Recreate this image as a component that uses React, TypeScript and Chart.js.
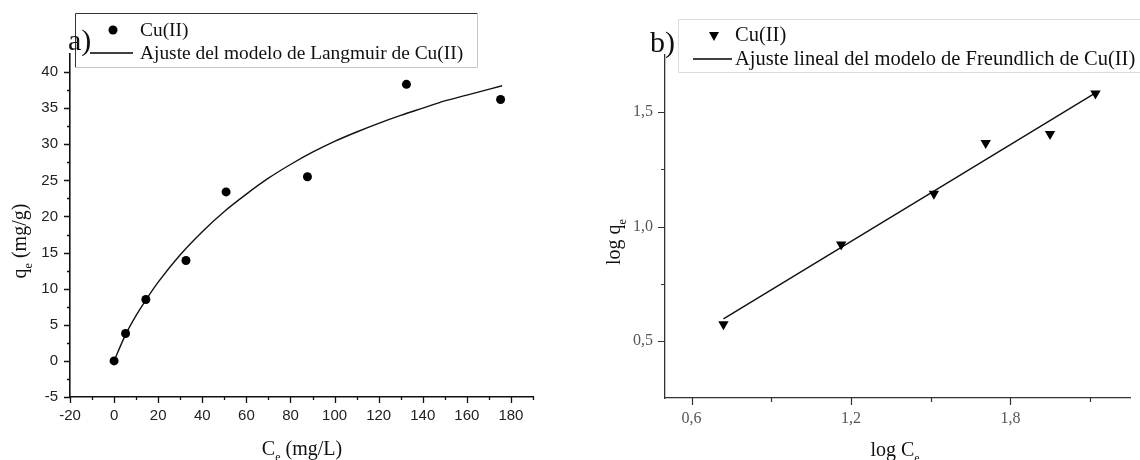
import React, { useEffect, useRef } from "react";
import { Chart, registerables } from "chart.js";
Chart.register(...registerables);

const SERIF = "'Liberation Serif', 'Times New Roman', serif";
const SANS = "'Liberation Sans', Arial, sans-serif";

// ---------- a) Langmuir ----------
const langCe = [0, 5.2, 14.4, 32.6, 50.8, 87.7, 132.6, 175.3];
const langQe = [0, 3.8, 8.5, 13.9, 23.4, 25.5, 38.3, 36.2];
const langFitCe = [0, 5, 10, 15, 20, 30, 40, 50, 60, 70, 80, 90, 100, 110, 120, 130, 140, 150, 160, 176];
const langFitQe = [0, 3.5, 6.3, 8.7, 10.9, 14.7, 17.9, 20.7, 23.1, 25.3, 27.2, 28.9, 30.4, 31.7, 32.9, 34.0, 35.0, 36.0, 36.8, 38.1];
const leftXTicks = [-20, 0, 20, 40, 60, 80, 100, 120, 140, 160, 180];
const leftXMinor = [-10, 10, 30, 50, 70, 90, 110, 130, 150, 170, 190];
const leftYTicks = [-5, 0, 5, 10, 15, 20, 25, 30, 35, 40];
const leftYMinor = [-2.5, 2.5, 7.5, 12.5, 17.5, 22.5, 27.5, 32.5, 37.5];
const leftLabels = ["Cu(II)", "Ajuste del modelo de Langmuir de Cu(II)"];

// ---------- b) Freundlich ----------
const freLogCe = [0.72, 1.163, 1.512, 1.707, 1.949, 2.12];
const freLogQe = [0.573, 0.921, 1.143, 1.365, 1.404, 1.582];
const freFitX = [0.72, 2.125];
const freFitY = [0.596, 1.588];
const rightXTicks = [0.6, 1.2, 1.8];
const rightXMinor = [0.9, 1.5, 2.1];
const rightYTicks = [0.5, 1.0, 1.5];
const rightYMinor = [0.75, 1.25];
const rightLabels = ["Cu(II)", "Ajuste lineal del modelo de Freundlich de Cu(II)"];

type Part = [string, boolean];

function drawSubText(ctx: CanvasRenderingContext2D, parts: Part[], cx: number, cy: number, rotate: boolean, size: number) {
  ctx.save();
  ctx.translate(cx, cy);
  if (rotate) ctx.rotate(-Math.PI / 2);
  const mainFont = `${size}px ${SERIF}`;
  const subFont = `${Math.round(size * 0.62)}px ${SERIF}`;
  let total = 0;
  for (const [t, sub] of parts) {
    ctx.font = sub ? subFont : mainFont;
    total += ctx.measureText(t).width;
  }
  let x = -total / 2;
  ctx.textAlign = "left";
  ctx.textBaseline = "alphabetic";
  ctx.fillStyle = "#111";
  for (const [t, sub] of parts) {
    ctx.font = sub ? subFont : mainFont;
    ctx.fillText(t, x, sub ? size * 0.3 : 0);
    x += ctx.measureText(t).width;
  }
  ctx.restore();
}

function makeDecor(cfg: any) {
  return {
    id: "decor_" + cfg.name,
    afterDraw(chart: any) {
      const ctx = chart.ctx as CanvasRenderingContext2D;
      const xs = chart.scales.x;
      const ys = chart.scales.y;
      const { left, bottom } = chart.chartArea;
      ctx.save();
      ctx.strokeStyle = cfg.axisColor;
      ctx.lineWidth = cfg.tickWidth;
      ctx.beginPath();
      for (const v of cfg.xMajor) {
        const p = Math.round(xs.getPixelForValue(v)) + 0.5;
        ctx.moveTo(p, bottom);
        ctx.lineTo(p, bottom + cfg.major);
      }
      for (const v of cfg.xMinor) {
        const p = Math.round(xs.getPixelForValue(v)) + 0.5;
        ctx.moveTo(p, bottom);
        ctx.lineTo(p, bottom + cfg.minor);
      }
      for (const v of cfg.yMajor) {
        const p = Math.round(ys.getPixelForValue(v)) + 0.5;
        ctx.moveTo(left, p);
        ctx.lineTo(left - cfg.major, p);
      }
      for (const v of cfg.yMinor) {
        const p = Math.round(ys.getPixelForValue(v)) + 0.5;
        ctx.moveTo(left, p);
        ctx.lineTo(left - cfg.minor, p);
      }
      ctx.stroke();

      // axis titles
      drawSubText(ctx, cfg.xTitle, cfg.xTitlePos[0], cfg.xTitlePos[1], false, 20);
      drawSubText(ctx, cfg.yTitle, cfg.yTitlePos[0], cfg.yTitlePos[1], true, 20);

      // legend box
      const lb = cfg.legendBox;
      ctx.fillStyle = "#fff";
      ctx.fillRect(lb[0], lb[1], lb[2], lb[3]);
      ctx.lineWidth = 1;
      ctx.strokeStyle = cfg.legendDark;
      ctx.beginPath();
      ctx.moveTo(lb[0] + 0.5, lb[1] + lb[3] + 0.5);
      ctx.lineTo(lb[0] + 0.5, lb[1] + 0.5);
      ctx.lineTo(lb[0] + lb[2] + 0.5, lb[1] + 0.5);
      ctx.stroke();
      ctx.strokeStyle = cfg.legendLight;
      ctx.beginPath();
      ctx.moveTo(lb[0] + lb[2] + 0.5, lb[1] + 0.5);
      ctx.lineTo(lb[0] + lb[2] + 0.5, lb[1] + lb[3] + 0.5);
      ctx.lineTo(lb[0] + 0.5, lb[1] + lb[3] + 0.5);
      ctx.stroke();

      // panel letter
      ctx.fillStyle = "#111";
      ctx.textAlign = "left";
      ctx.textBaseline = "alphabetic";
      ctx.font = `30px ${SERIF}`;
      ctx.fillText(cfg.letter, cfg.letterPos[0], cfg.letterPos[1]);

      const ds = chart.data.datasets;
      // marker
      const m = cfg.markerPos;
      ctx.fillStyle = "#000";
      ctx.beginPath();
      if (cfg.marker === "circle") {
        ctx.arc(m[0], m[1], 4.5, 0, Math.PI * 2);
      } else {
        ctx.moveTo(m[0] - 5, m[1] - 4);
        ctx.lineTo(m[0] + 5, m[1] - 4);
        ctx.lineTo(m[0], m[1] + 5);
        ctx.closePath();
      }
      ctx.fill();
      // line sample
      const l = cfg.lineSample;
      ctx.strokeStyle = "#000";
      ctx.lineWidth = 1.3;
      ctx.beginPath();
      ctx.moveTo(l[0], l[2]);
      ctx.lineTo(l[1], l[2]);
      ctx.stroke();
      ctx.font = `${cfg.legendSize}px ${SERIF}`;
      ctx.fillStyle = "#111";
      ctx.textBaseline = "middle";
      ctx.fillText(ds[0].label, cfg.textX, cfg.textY[0]);
      ctx.fillText(ds[1].label, cfg.textX, cfg.textY[1]);
      ctx.restore();
    },
  };
}

function buildChart(canvas: HTMLCanvasElement, cfg: any) {
  const scatter = cfg.px.map((x: number, i: number) => ({ x, y: cfg.py[i] }));
  const fit = cfg.fx.map((x: number, i: number) => ({ x, y: cfg.fy[i] }));
  const tickFont = { family: cfg.tickFamily, size: cfg.tickSize };
  return new Chart(canvas, {
    type: "scatter",
    data: {
      datasets: [
        {
          label: cfg.labels[0],
          data: scatter,
          showLine: false,
          pointStyle: cfg.marker === "circle" ? "circle" : "triangle",
          rotation: cfg.marker === "circle" ? 0 : 180,
          pointRadius: cfg.marker === "circle" ? 4.5 : 6,
          backgroundColor: "#000",
          borderColor: "#000",
          borderWidth: 0,
          order: 1,
        },
        {
          label: cfg.labels[1],
          data: fit,
          showLine: true,
          pointRadius: 0,
          borderColor: "#111",
          borderWidth: 1.4,
          tension: 0.4,
          cubicInterpolationMode: "monotone",
          fill: false,
          order: 2,
        },
      ],
    },
    options: {
      responsive: false,
      animation: false,
      devicePixelRatio: 1,
      layout: { padding: cfg.padding },
      plugins: { legend: { display: false }, tooltip: { enabled: false } },
      scales: {
        x: {
          type: "linear",
          min: cfg.xRange[0],
          max: cfg.xRange[1],
          grid: { display: false, drawTicks: false, tickLength: 0 },
          border: { display: true, color: cfg.axisColor, width: cfg.axisWidth },
          afterBuildTicks: (s: any) => {
            s.ticks = cfg.xMajor.map((v: number) => ({ value: v }));
          },
          afterFit: (s: any) => {
            s.height = cfg.xHeight;
          },
          ticks: {
            autoSkip: false,
            maxRotation: 0,
            padding: cfg.xPad,
            color: cfg.tickColor,
            font: tickFont,
            callback: cfg.fmt,
          },
        },
        y: {
          type: "linear",
          min: cfg.yRange[0],
          max: cfg.yRange[1],
          grid: { display: false, drawTicks: false, tickLength: 0 },
          border: { display: true, color: cfg.axisColor, width: cfg.axisWidth },
          afterBuildTicks: (s: any) => {
            s.ticks = cfg.yMajor.map((v: number) => ({ value: v }));
          },
          afterFit: (s: any) => {
            s.width = cfg.yWidth;
          },
          ticks: {
            autoSkip: false,
            padding: cfg.yPad,
            color: cfg.tickColor,
            font: tickFont,
            callback: cfg.fmt,
          },
        },
      },
    },
    plugins: [makeDecor(cfg)],
  } as any);
}

const leftCfg = {
  name: "a",
  px: langCe,
  py: langQe,
  fx: langFitCe,
  fy: langFitQe,
  labels: leftLabels,
  marker: "circle",
  xRange: [-20, 190],
  yRange: [-5, 42.5],
  xMajor: leftXTicks,
  xMinor: leftXMinor,
  yMajor: leftYTicks,
  yMinor: leftYMinor,
  padding: { left: 0, top: 54, right: 27, bottom: 0 },
  xHeight: 63,
  yWidth: 70,
  xPad: 10,
  yPad: 12,
  tickFamily: SANS,
  tickSize: 15,
  tickColor: "#222",
  axisColor: "#111",
  axisWidth: 1.6,
  tickWidth: 1.3,
  major: 6,
  minor: 3,
  fmt: (v: any) => String(v),
  xTitle: [["C", false], ["e", true], [" (mg/L)", false]] as Part[],
  xTitlePos: [302, 455],
  yTitle: [["q", false], ["e", true], [" (mg/g)", false]] as Part[],
  yTitlePos: [26, 241],
  letter: "a)",
  letterPos: [68, 50],
  legendBox: [75, 13, 402, 54],
  legendDark: "#333",
  legendLight: "#c8c8c8",
  markerPos: [113, 30],
  lineSample: [90, 133, 53],
  textX: 140,
  textY: [31, 54],
  legendSize: 19.4,
};

const rightCfg = {
  name: "b",
  px: freLogCe,
  py: freLogQe,
  fx: freFitX,
  fy: freFitY,
  labels: rightLabels,
  marker: "triangle",
  xRange: [0.5, 2.25],
  yRange: [0.25, 1.75],
  xMajor: rightXTicks,
  xMinor: rightXMinor,
  yMajor: rightYTicks,
  yMinor: rightYMinor,
  padding: { left: 0, top: 55, right: 10, bottom: 0 },
  xHeight: 62,
  yWidth: 105,
  xPad: 11,
  yPad: 12,
  tickFamily: SERIF,
  tickSize: 16,
  tickColor: "#555",
  axisColor: "#333",
  axisWidth: 1.3,
  tickWidth: 1.2,
  major: 7,
  minor: 4,
  fmt: (v: any) => Number(v).toFixed(1).replace(".", ","),
  xTitle: [["log C", false], ["e", true]] as Part[],
  xTitlePos: [335, 456],
  yTitle: [["log q", false], ["e", true]] as Part[],
  yTitlePos: [60, 242],
  letter: "b)",
  letterPos: [90, 52],
  legendBox: [118, 19, 470, 53],
  legendDark: "#dcdcdc",
  legendLight: "#dcdcdc",
  markerPos: [154, 36],
  lineSample: [133, 172, 59],
  textX: 175,
  textY: [36, 60],
  legendSize: 20.5,
};

export default function App() {
  const leftRef = useRef<HTMLCanvasElement>(null);
  const rightRef = useRef<HTMLCanvasElement>(null);
  useEffect(() => {
    const a = buildChart(leftRef.current as HTMLCanvasElement, leftCfg);
    const b = buildChart(rightRef.current as HTMLCanvasElement, rightCfg);
    return () => {
      a.destroy();
      b.destroy();
    };
  }, []);
  return (
    <div style={{ position: "fixed", left: 0, top: 0, width: 1140, height: 460, background: "#fff", overflow: "hidden" }}>
      <canvas ref={leftRef} width={560} height={460} style={{ position: "absolute", left: 0, top: 0 }} />
      <canvas ref={rightRef} width={580} height={460} style={{ position: "absolute", left: 560, top: 0 }} />
    </div>
  );
}
